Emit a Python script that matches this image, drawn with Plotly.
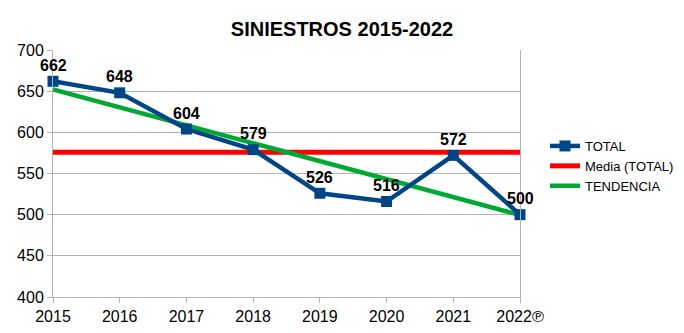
import numpy as np
import plotly.graph_objects as go

years = ["2015", "2016", "2017", "2018", "2019", "2020", "2021", "2022℗"]
total = [662, 648, 604, 579, 526, 516, 572, 500]

idx = np.arange(len(total))
mean_val = float(np.mean(total))
slope, intercept = np.polyfit(idx, total, 1)
trend = list(intercept + slope * idx)
media = [mean_val] * len(total)

fig = go.Figure()
fig.add_trace(go.Scatter(
    x=years, y=media, name="Media (TOTAL)", mode="lines",
    line=dict(color="#ff0000", width=5), cliponaxis=False, legendrank=2,
))
fig.add_trace(go.Scatter(
    x=years, y=trend, name="TENDENCIA", mode="lines",
    line=dict(color="#00a933", width=4.5), cliponaxis=False, legendrank=3,
))
fig.add_trace(go.Scatter(
    x=years, y=total, name="TOTAL", mode="lines+markers",
    line=dict(color="#004586", width=4.5),
    marker=dict(symbol="square", size=11, color="#004586"),
    cliponaxis=False, legendrank=1,
))

# category axis: annotation x given as category index
for i, v in enumerate(total):
    fig.add_annotation(
        x=i, y=v, text=f"<b>{v}</b>", showarrow=False,
        xanchor="center", yanchor="middle", yshift=16,
        font=dict(family="Liberation Sans, Arial", size=16, color="#000000"),
    )

fig.update_layout(
    width=684, height=333,
    margin=dict(l=53, r=164, t=50, b=36),
    paper_bgcolor="white", plot_bgcolor="white",
    font=dict(family="Liberation Sans, Arial", color="#000000"),
    title=dict(text="<b>SINIESTROS 2015-2022</b>", x=342/684, xanchor="center",
               y=1 - 29/333, yanchor="middle",
               font=dict(size=20, family="Liberation Sans, Arial", color="#000000")),
    showlegend=True,
    legend=dict(xref="container", yref="container", x=545/684, xanchor="left",
                y=1 - 166/333, yanchor="middle",
                traceorder="normal", font=dict(size=13, color="#000000"),
                bgcolor="rgba(0,0,0,0)", itemwidth=30, tracegroupgap=0),
)
fig.update_xaxes(
    type="category", range=[0, 7], showgrid=False, automargin=False,
    showline=True, linecolor="#b3b3b3", linewidth=1,
    ticks="outside", ticklen=5, tickcolor="#b3b3b3",
    tickfont=dict(size=16, color="#000000"), zeroline=False,
)
fig.update_yaxes(
    range=[400, 700], tickvals=[400, 450, 500, 550, 600, 650, 700],
    showgrid=True, gridcolor="#b3b3b3", gridwidth=1, automargin=False,
    showline=True, linecolor="#b3b3b3", linewidth=1, mirror=True,
    ticks="outside", ticklen=5, tickcolor="#b3b3b3",
    tickfont=dict(size=16, color="#000000"), zeroline=False,
)

fig.write_html("out.html")
